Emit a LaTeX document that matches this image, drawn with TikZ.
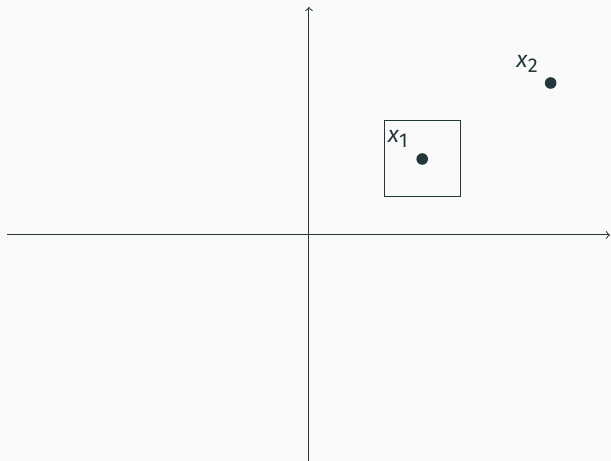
\documentclass[tikz,border=0pt]{standalone}
\usepackage{fontspec}
\setmainfont{Fira Sans}
\usetikzlibrary{positioning}
\definecolor{darkteal}{HTML}{23373B}
\definecolor{pagebg}{HTML}{FAFAFA}
\tikzset{
  axis/.style={->,draw=darkteal,line width=0.5pt},
  region/.style={draw=darkteal,line width=0.5pt,minimum size=38pt,inner sep=0pt},
  dot/.style={circle,fill=darkteal,inner sep=0pt,minimum size=5.8pt},
  lbl/.style={text=darkteal,inner sep=1.5pt,font=\fontsize{11.5}{13}\selectfont},
}
\newcommand{\ptlabel}[1]{\textit{x}\raisebox{-2.5pt}{\fontsize{10}{12}\selectfont #1}}
\begin{document}
\begin{tikzpicture}[x=38pt,y=38pt]
  \fill[pagebg] (-4.066,-2.974) rectangle (3.974,3.092);
  \useasboundingbox (-4.066,-2.974) rectangle (3.974,3.092);

  \coordinate (xl) at (-3.97,0);
  \coordinate (xr) at (3.96,0);
  \coordinate (yb) at (0,-2.974);
  \coordinate (yt) at (0,3.0);
  \draw[axis] (xl) -- (xr);
  \draw[axis] (yb) -- (yt);

  \node[region] (box) at (1.5,1) {};
  \node[dot] (p1) at (1.49,1) {};
  \node[dot] (p2) at (3.18,2) {};

  \node[lbl,below right=3.3pt and 0pt of box.north west] (l1) {\ptlabel{1}};
  \node[lbl,above left=3.5pt and 4.8pt of p2.center] (l2) {\ptlabel{2}};
\end{tikzpicture}
\end{document}
